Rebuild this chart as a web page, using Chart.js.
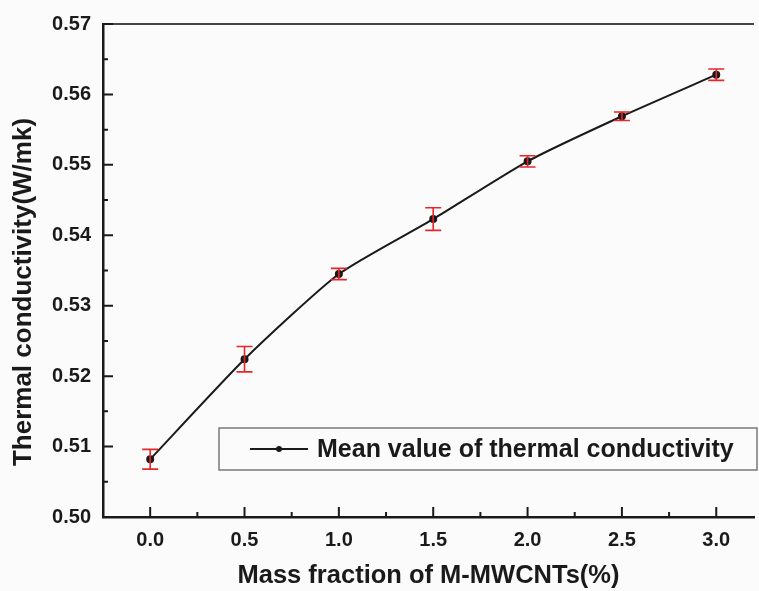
<!DOCTYPE html>
<html>
<head>
<meta charset="utf-8">
<script src="https://cdn.jsdelivr.net/npm/chart.js@4.4.0/dist/chart.umd.min.js"></script>
<style>
  html, body { margin: 0; padding: 0; background: #fbfbfb; }
  #wrap { width: 759px; height: 591px; }
</style>
</head>
<body>
<div id="wrap"><canvas id="chartCanvas" width="759" height="591"></canvas></div>
<script>
// values
let massFraction = [0.0, 0.5, 1.0, 1.5, 2.0, 2.5, 3.0]
let meanK = [0.5082, 0.5224, 0.5345, 0.5423, 0.5505, 0.5569, 0.5628]
let errK = [0.0014, 0.0018, 0.0008, 0.0016, 0.0008, 0.0006, 0.0008]
let xTicks = [0.0, 0.5, 1.0, 1.5, 2.0, 2.5, 3.0]
let yTicks = [0.50, 0.51, 0.52, 0.53, 0.54, 0.55, 0.56, 0.57]

let seriesName = 'Mean value of thermal conductivity'
let xTitle = 'Mass fraction of M-MWCNTs(%)'
let yTitle = 'Thermal conductivity(W/mk)'

let ink = '#1a1a1a'
let font = '"Liberation Sans", Arial, sans-serif'

let points = massFraction.map((x, i) => ({ x: x, y: meanK[i] }))

// inward ticks, top frame line, error bars, legend box and y title
let decor = {
    id: 'decor',
    afterDatasetsDraw(chart) {
        let ctx = chart.ctx
        let xs = chart.scales.x
        let ys = chart.scales.y

        ctx.save()
        // error bars
        ctx.strokeStyle = '#e8262a'
        ctx.lineWidth = 1.6
        massFraction.forEach((x, i) => {
            let px = xs.getPixelForValue(x)
            let top = ys.getPixelForValue(meanK[i] + errK[i])
            let bot = ys.getPixelForValue(meanK[i] - errK[i])
            ctx.beginPath()
            ctx.moveTo(px, top); ctx.lineTo(px, bot)
            ctx.moveTo(px - 8, top); ctx.lineTo(px + 8, top)
            ctx.moveTo(px - 8, bot); ctx.lineTo(px + 8, bot)
            ctx.stroke()
        })
        ctx.restore()
    },
    afterDraw(chart) {
        let ctx = chart.ctx
        let area = chart.chartArea
        let xs = chart.scales.x
        let ys = chart.scales.y
        ctx.save()

        // top frame
        ctx.strokeStyle = '#444'
        ctx.lineWidth = 2
        ctx.beginPath()
        ctx.moveTo(area.left, area.top)
        ctx.lineTo(area.right, area.top)
        ctx.stroke()

        // ticks pointing into the plot
        ctx.strokeStyle = ink
        ctx.lineWidth = 2
        ctx.beginPath()
        for (let i = 0; i < xTicks.length; i++) {
            let px = xs.getPixelForValue(xTicks[i])
            ctx.moveTo(px, area.bottom); ctx.lineTo(px, area.bottom - 10)
            if (i < xTicks.length - 1) {
                let mx = xs.getPixelForValue((xTicks[i] + xTicks[i + 1]) / 2)
                ctx.moveTo(mx, area.bottom); ctx.lineTo(mx, area.bottom - 5)
            }
        }
        for (let i = 0; i < yTicks.length; i++) {
            let py = ys.getPixelForValue(yTicks[i])
            ctx.moveTo(area.left, py); ctx.lineTo(area.left + 10, py)
            if (i < yTicks.length - 1) {
                let my = ys.getPixelForValue((yTicks[i] + yTicks[i + 1]) / 2)
                ctx.moveTo(area.left, my); ctx.lineTo(area.left + 5, my)
            }
        }
        ctx.stroke()

        // legend box
        let bx = 219, by = 428, bw = 538, bh = 42
        ctx.strokeStyle = '#7a7a7a'
        ctx.lineWidth = 1.5
        ctx.strokeRect(bx, by, bw, bh)
        let ly = by + bh / 2
        ctx.strokeStyle = ink
        ctx.lineWidth = 2
        ctx.beginPath()
        ctx.moveTo(bx + 31, ly); ctx.lineTo(bx + 89, ly)
        ctx.stroke()
        ctx.fillStyle = ink
        ctx.beginPath()
        ctx.arc(bx + 60, ly, 3, 0, Math.PI * 2)
        ctx.fill()
        ctx.font = 'bold 25px ' + font
        ctx.textAlign = 'left'
        ctx.textBaseline = 'middle'
        ctx.fillText(chart.data.datasets[0].label, bx + 98, ly + 1)

        // y axis title
        ctx.translate(24, 292)
        ctx.rotate(-Math.PI / 2)
        ctx.textAlign = 'center'
        ctx.font = 'bold 26px ' + font
        ctx.fillText(yTitle, 0, 0)

        ctx.restore()
    }
}

let bg = {
    id: 'bg',
    beforeDraw(chart) {
        let ctx = chart.ctx
        ctx.save()
        ctx.fillStyle = '#fbfbfb'
        ctx.fillRect(0, 0, chart.width, chart.height)
        ctx.restore()
    }
}

let mychart = document.getElementById('chartCanvas').getContext('2d')
let chart = new Chart(mychart, {
    type: 'line',
    data: {
        datasets: [
            {
                label: seriesName,
                data: points,
                borderColor: ink,
                borderWidth: 2,
                backgroundColor: ink,
                pointRadius: 3,
                pointHoverRadius: 3,
                tension: 0.2
            }
        ]
    },
    options: {
        responsive: false,
        animation: false,
        layout: { padding: { top: 22, right: 0, left: 0, bottom: 0 } },
        plugins: {
            legend: { display: false },
            tooltip: { enabled: false }
        },
        scales: {
            x: {
                type: 'linear',
                min: -0.25,
                max: 3.2,
                afterBuildTicks: (s) => { s.ticks = xTicks.map(v => ({ value: v })) },
                afterFit: (s) => { s.height = 74 },
                grid: { display: false, drawTicks: false },
                border: { display: true, color: ink, width: 2.5 },
                ticks: {
                    padding: 11,
                    color: ink,
                    font: { family: font, size: 20, weight: 'bold' },
                    callback: (v) => Number(v).toFixed(1),
                    maxRotation: 0
                },
                title: {
                    display: true,
                    text: xTitle,
                    color: ink,
                    font: { family: font, size: 25.5, weight: 'bold' },
                    padding: { top: 0, bottom: 0 }
                }
            },
            y: {
                min: 0.50,
                max: 0.57,
                afterBuildTicks: (s) => { s.ticks = yTicks.map(v => ({ value: v })) },
                afterFit: (s) => { s.width = 103 },
                grid: { display: false, drawTicks: false },
                border: { display: true, color: ink, width: 2.5 },
                ticks: {
                    padding: 12,
                    color: ink,
                    font: { family: font, size: 20, weight: 'bold' },
                    callback: (v) => Number(v).toFixed(2)
                }
            }
        }
    },
    plugins: [bg, decor]
})
</script>
</body>
</html>
